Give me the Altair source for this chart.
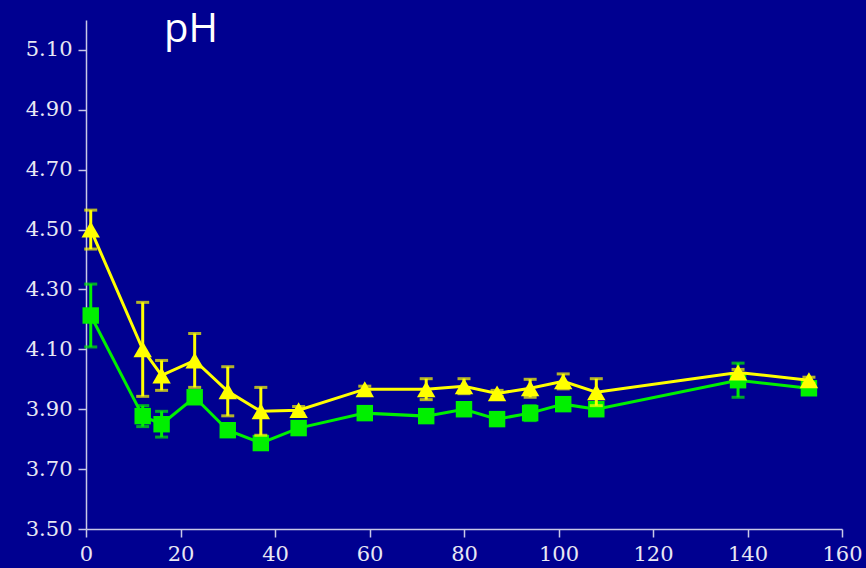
import altair as alt
import pandas as pd

# Sampling days
days = [1, 12, 16, 23, 30, 37, 45, 59, 72, 80, 87, 94, 101, 108, 138, 153]

# Series A (yellow triangles): mean pH and standard error
ph_a = [4.50, 4.10, 4.013, 4.063, 3.96, 3.893, 3.897, 3.967, 3.967, 3.977, 3.953, 3.97, 3.993, 3.957, 4.023, 3.997]
err_a = [0.065, 0.157, 0.05, 0.09, 0.082, 0.08, 0.012, 0.01, 0.035, 0.025, 0.01, 0.03, 0.025, 0.045, 0.01, 0.01]

# Series B (green squares): mean pH and standard error
ph_b = [4.213, 3.877, 3.85, 3.94, 3.83, 3.787, 3.837, 3.887, 3.877, 3.90, 3.867, 3.887, 3.917, 3.90, 3.997, 3.97]
err_b = [0.105, 0.035, 0.043, 0.01, 0.01, 0.01, 0.01, 0.01, 0.01, 0.01, 0.01, 0.025, 0.01, 0.01, 0.057, 0.01]

x_ticks = [0, 20, 40, 60, 80, 100, 120, 140, 160]
y_ticks = [3.5, 3.7, 3.9, 4.1, 4.3, 4.5, 4.7, 4.9, 5.1]

YELLOW = "#FFFF00"
GREEN = "#00F000"
BG = "#000090"
AXIS = "#C8C8E6"
LABEL = "#E8E8F4"


def frame(ph, err):
    return pd.DataFrame({
        "day": days,
        "ph": ph,
        "lo": [p - e for p, e in zip(ph, err)],
        "hi": [p + e for p, e in zip(ph, err)],
    })


df_a = frame(ph_a, err_a)
df_b = frame(ph_b, err_b)

x_scale = alt.Scale(domain=[0, 160], nice=False, zero=False)
y_scale = alt.Scale(domain=[3.5, 5.2], nice=False, zero=False)

x_axis = alt.Axis(values=x_ticks, format="d", title=None, grid=False,
                  domainColor=AXIS, domainWidth=1.5, tickColor=AXIS, tickWidth=1.5,
                  tickSize=8, labelColor=LABEL, labelFont="DejaVu Serif",
                  labelFontSize=21, labelPadding=6, labelFlush=False)
y_axis = alt.Axis(values=y_ticks, format=".2f", title=None, grid=False,
                  domainColor=AXIS, domainWidth=1.5, tickColor=AXIS, tickWidth=1.5,
                  tickSize=8, labelColor=LABEL, labelFont="DejaVu Serif",
                  labelFontSize=21, labelPadding=6, labelFlush=False)

X = alt.X("day:Q", scale=x_scale, axis=x_axis)
Y = alt.Y("ph:Q", scale=y_scale, axis=y_axis)


def series(df, color, shape, size):
    base = alt.Chart(df)
    line = base.mark_line(color=color, strokeWidth=3).encode(x=X, y=Y)
    bars = base.mark_rule(color=color, strokeWidth=3).encode(
        x="day:Q", y=alt.Y("lo:Q", scale=y_scale), y2="hi:Q")
    cap_hi = base.mark_tick(color=color, orient="horizontal", size=13, thickness=3).encode(
        x="day:Q", y=alt.Y("hi:Q", scale=y_scale))
    cap_lo = base.mark_tick(color=color, orient="horizontal", size=13, thickness=3).encode(
        x="day:Q", y=alt.Y("lo:Q", scale=y_scale))
    pts = base.mark_point(shape=shape, filled=True, color=color, opacity=1, size=size).encode(x=X, y=Y)
    return [line, bars, cap_hi, cap_lo, pts]


title = alt.Chart(pd.DataFrame({"t": ["pH"]})).mark_text(
    font="Open Sans", fontSize=40, color="white", align="center", baseline="middle"
).encode(x=alt.value(105), y=alt.value(10), text="t:N")

chart = alt.layer(
    *series(df_b, GREEN, "square", 270),
    *series(df_a, YELLOW, "triangle-up", 340),
    title,
).properties(
    width=756, height=509,
    background=BG,
    padding={"left": 86, "top": 20, "right": 24, "bottom": 39},
    autosize=alt.AutoSizeParams(type="none"),
).configure_view(stroke=None)

chart.save("out.html", embed_options={"renderer": "svg", "actions": False})
